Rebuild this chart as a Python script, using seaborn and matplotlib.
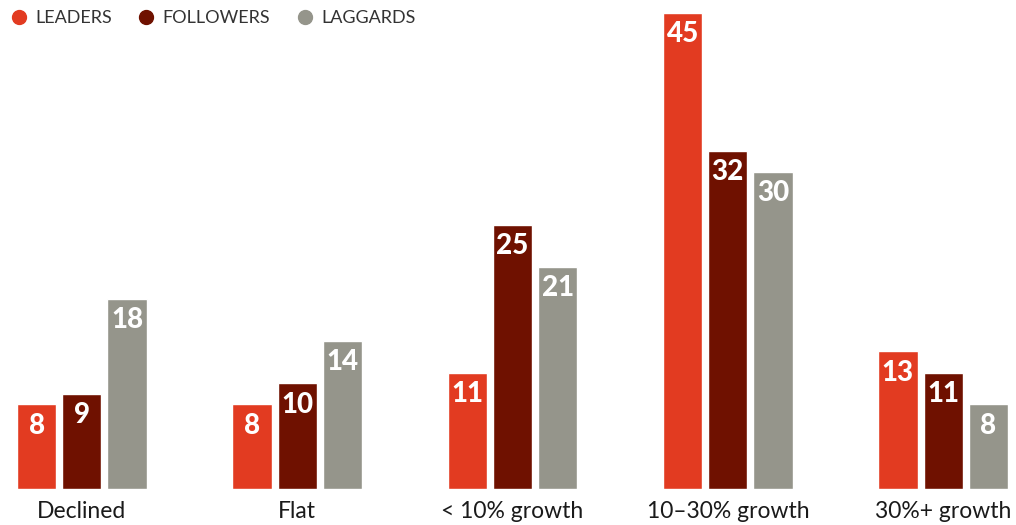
import matplotlib
matplotlib.use("Agg")
import matplotlib.pyplot as plt
from matplotlib.lines import Line2D
import seaborn as sns
import pandas as pd

categories = ["Declined", "Flat", "< 10% growth", "10–30% growth", "30%+ growth"]
groups = ["LEADERS", "FOLLOWERS", "LAGGARDS"]
leaders = [8, 8, 11, 45, 13]
followers = [9, 10, 25, 32, 11]
laggards = [18, 14, 21, 30, 8]
colors = ["#E23B21", "#6F1100", "#95958B"]

series = {"LEADERS": leaders, "FOLLOWERS": followers, "LAGGARDS": laggards}
df = pd.DataFrame(
    [(c, g, v) for g in groups for c, v in zip(categories, series[g])],
    columns=["category", "group", "value"],
)

sns.set_theme(style="white")
plt.rcParams["font.family"] = ["Lato", "DejaVu Sans"]

W, H = 1016, 525
fig = plt.figure(figsize=(W / 100, H / 100), dpi=100)
ax = fig.add_axes([17 / W, 36 / H, (1008 - 17) / W, (489 - 13) / H])

sns.barplot(
    data=df, x="category", y="value", hue="group",
    order=categories, hue_order=groups, palette=colors,
    width=0.63, gap=0.133, dodge=True, saturation=1, legend=False, ax=ax,
)

ax.set_xlim(-0.301, 4.301)
ax.set_ylim(0, 45)
ax.set_xlabel("")
ax.set_ylabel("")
ax.set_yticks([])
ax.tick_params(axis="x", length=0, pad=9, labelsize=16.5, labelcolor="#1a1a1a")
sns.despine(ax=ax, left=True, bottom=True)

# value labels inside the top of each bar
for cont, g in zip(ax.containers, groups):
    for patch, v in zip(cont.patches, series[g]):
        x = patch.get_x() + patch.get_width() / 2
        ax.annotate(
            f"{v}", xy=(x, v), xytext=(0, -6), textcoords="offset points",
            ha="center", va="top", color="white", fontsize=20,
            fontweight="black", family=["Lato", "DejaVu Sans"],
        )

handles = [
    Line2D([0], [0], marker="o", linestyle="none", markersize=10,
           markerfacecolor=c, markeredgecolor=c)
    for c in colors
]
fig.legend(
    handles, groups, loc="center left", bbox_to_anchor=(9.5 / W, 1 - 18 / H),
    ncol=3, frameon=False, fontsize=13, handletextpad=0.42,
    columnspacing=1.4, handlelength=1.0, borderpad=0, borderaxespad=0,
    labelcolor="#333333",
)

fig.savefig("out.png", dpi=100)
